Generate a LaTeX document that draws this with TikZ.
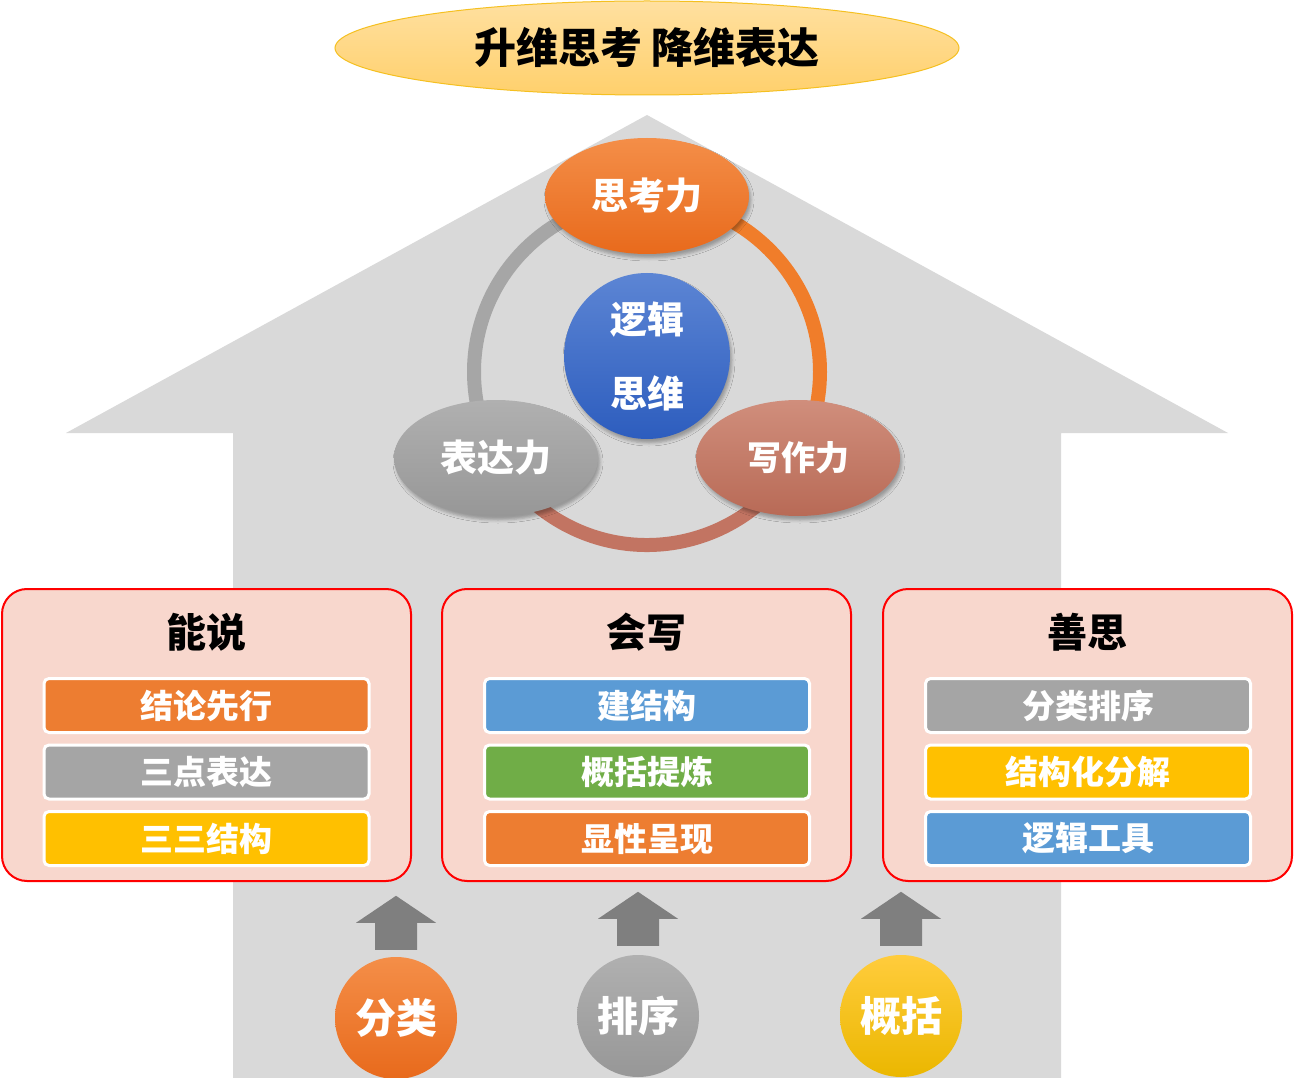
\documentclass[tikz,border=0pt]{standalone}
\usepackage{fontspec}
\setmainfont{Noto Sans CJK SC}
\usetikzlibrary{shapes.geometric,shadows.blur,calc}
\definecolor{house}{HTML}{D9D9D9}
\definecolor{boxfill}{HTML}{F8D7CD}
\definecolor{boxred}{HTML}{FF0000}
\definecolor{cOrange}{HTML}{ED7D31}
\definecolor{cGray}{HTML}{A5A5A5}
\definecolor{cGold}{HTML}{FFC000}
\definecolor{cBlue}{HTML}{5B9BD5}
\definecolor{cGreen}{HTML}{70AD47}
\definecolor{arrowgray}{HTML}{7F7F7F}
\definecolor{ringGray}{HTML}{A6A6A6}
\definecolor{ringOrange}{HTML}{F07D2A}
\definecolor{ringBrown}{HTML}{C27462}
\definecolor{titleT}{HTML}{FFE0A0}
\definecolor{titleB}{HTML}{FFD06C}
\definecolor{titleBorder}{HTML}{F5C020}
\definecolor{oT}{HTML}{F48E48}
\definecolor{oB}{HTML}{E86A1C}
\definecolor{gT}{HTML}{B0B0B0}
\definecolor{gB}{HTML}{979797}
\definecolor{rT}{HTML}{D08E7C}
\definecolor{rB}{HTML}{B86A56}
\definecolor{bT}{HTML}{5C85D4}
\definecolor{bB}{HTML}{2D5DBE}
\definecolor{yT}{HTML}{FFCC3C}
\definecolor{yB}{HTML}{EBB700}
\tikzset{
  boxsty/.style={draw=boxred, line width=2pt, fill=boxfill, rounded corners=25pt,
    minimum width=409pt, minimum height=292pt, inner sep=0pt},
  boxtitle/.style={font=\fontsize{40}{46}\selectfont\bfseries, text=black, inner sep=0pt},
  barsty/.style={draw=white, line width=3pt, rounded corners=5pt, minimum width=325pt,
    minimum height=54pt, inner sep=0pt, text=white, font=\fontsize{33}{38}\selectfont\bfseries},
  softshadow/.style={blur shadow={shadow xshift=2pt, shadow yshift=-4pt, shadow blur radius=3pt, shadow opacity=30}},
  ellsty/.style={ellipse, inner sep=0pt, minimum width=204pt, minimum height=116pt, text=white,
    font=\fontsize{37}{42}\selectfont\bfseries, softshadow},
  botsty/.style={circle, inner sep=0pt, minimum size=122pt, text=white,
    font=\fontsize{41}{46}\selectfont\bfseries},
  ringsty/.style={line width=14pt},
  uparr/.pic={\fill[arrowgray] (-40,27)--(0,0)--(40,27)--(21,27)--(21,54)--(-21,54)--(-21,27)--cycle;}
}
\begin{document}
\begin{tikzpicture}[x=1pt,y=-1pt]
\useasboundingbox (0,0) rectangle (1294,1078);
\fill[white] (0,0) rectangle (1294,1078);
% house
\fill[house] (66,433) -- (647,115) -- (1228,433) -- (1061,433) -- (1061,1078) -- (233,1078) -- (233,433) -- cycle;
% title
\node[ellipse, minimum width=624pt, minimum height=94pt, inner sep=0pt, top color=titleT, bottom color=titleB,
  draw=titleBorder, line width=1pt, font=\fontsize{42}{48}\selectfont\bfseries] (title) at (647,48) {升维思考 降维表达};
% ring (angles measured with y pointing down)
\coordinate (rc) at (647,372);
\draw[ringsty, ringGray] ($(rc)+(270:173)$) arc[start angle=270, end angle=150, radius=173];
\draw[ringsty, ringOrange] ($(rc)+(270:173)$) arc[start angle=270, end angle=390, radius=173];
\draw[ringsty, ringBrown] ($(rc)+(30:173)$) arc[start angle=30, end angle=150, radius=173];
% ellipses
\node[ellsty, top color=oT, bottom color=oB] (think) at (647,196) {思考力};
\node[ellsty, top color=gT, bottom color=gB] (speak) at (496,458) {表达力};
\node[ellsty, top color=rT, bottom color=rB, font=\fontsize{34}{40}\selectfont\bfseries] (write) at (798,458) {写作力};
\node[circle, inner sep=0pt, minimum size=166pt, top color=bT, bottom color=bB, align=center, text=white,
  font=\fontsize{37}{74}\selectfont\bfseries, softshadow] (core) at (647,356) {逻辑\\思维};
% boxes
\node[boxsty] (b1) at (206.5,735) {};
\node[boxsty] (b2) at (646.5,735) {};
\node[boxsty] (b3) at (1087.5,735) {};
\node[boxtitle] (t1) at (206.5,632) {能说};
\node[boxtitle] (t2) at (646.5,632) {会写};
\node[boxtitle] (t3) at (1087.5,632) {善思};
\node[barsty, fill=cOrange] (b1a) at (206.5,705.5) {结论先行};
\node[barsty, fill=cGray]   (b1b) at (206.5,772) {三点表达};
\node[barsty, fill=cGold]   (b1c) at (206.5,838.5) {三三结构};
\node[barsty, fill=cBlue]   (b2a) at (647,705.5) {建结构};
\node[barsty, fill=cGreen]  (b2b) at (647,772) {概括提炼};
\node[barsty, fill=cOrange] (b2c) at (647,838.5) {显性呈现};
\node[barsty, fill=cGray]   (b3a) at (1088,705.5) {分类排序};
\node[barsty, fill=cGold]   (b3b) at (1088,772) {结构化分解};
\node[barsty, fill=cBlue]   (b3c) at (1088,838.5) {逻辑工具};
% bottom circles
\node[botsty, top color=oT, bottom color=oB] (c1) at (396,1018) {分类};
\node[botsty, top color=gT, bottom color=gB] (c2) at (638,1016) {排序};
\node[botsty, top color=yT, bottom color=yB] (c3) at (901,1016) {概括};
% arrows
\pic at ($(c1.north)+(0,-61)$) {uparr};
\pic at ($(c2.north)+(0,-63)$) {uparr};
\pic at ($(c3.north)+(0,-63)$) {uparr};
\end{tikzpicture}
\end{document}
